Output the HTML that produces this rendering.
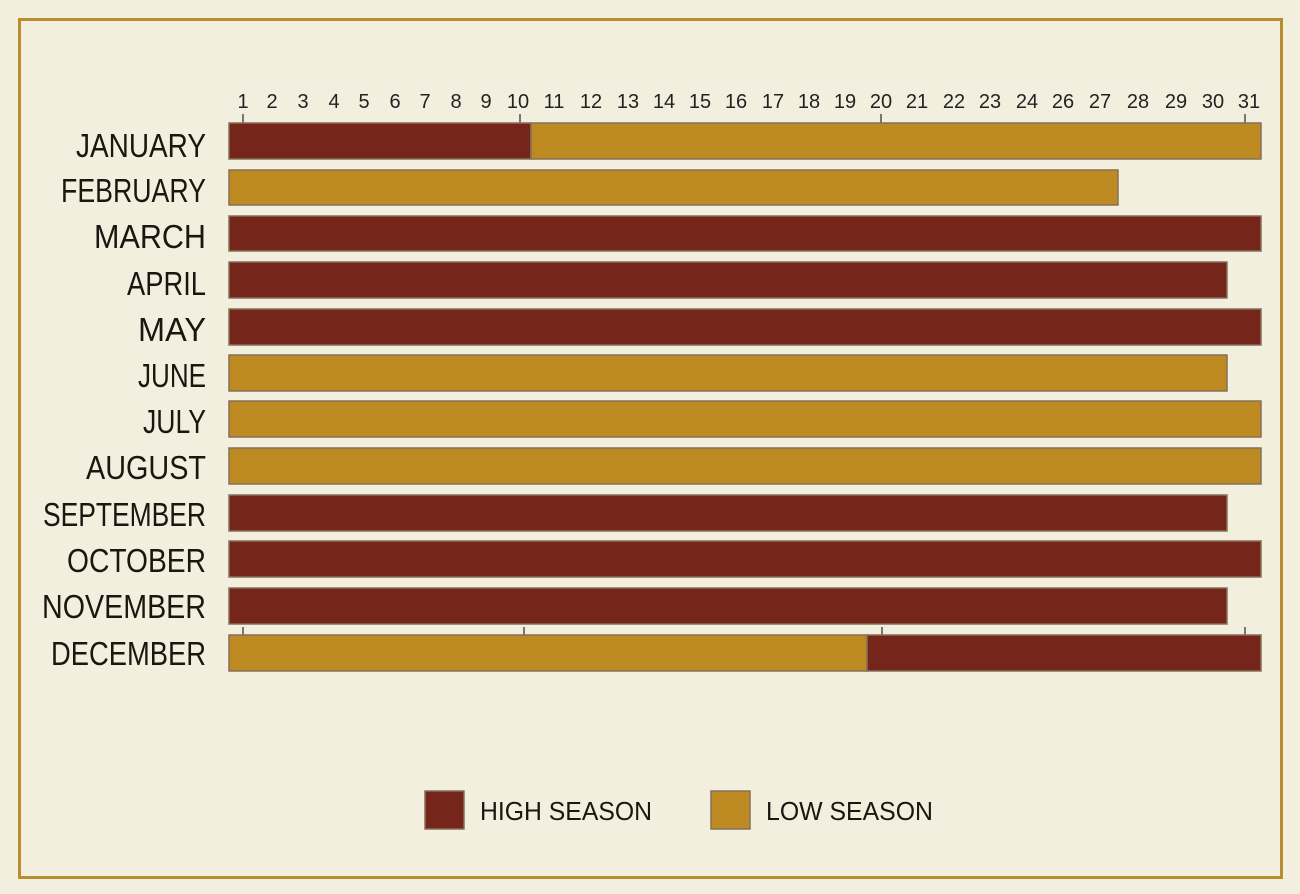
<!DOCTYPE html>
<html><head><meta charset="utf-8"><style>html,body{margin:0;padding:0;background:#f3efdf}svg{display:block}</style></head>
<body>
<svg width="1300" height="894" viewBox="0 0 1300 894" xmlns="http://www.w3.org/2000/svg" font-family="Liberation Sans, sans-serif">
<rect width="1300" height="894" fill="#f3efdf"/>
<rect x="19.5" y="19.5" width="1262" height="858" fill="none" stroke="#b88d2f" stroke-width="3"/>
<g font-size="20" fill="#222" text-anchor="middle">
<text x="243" y="108">1</text><text x="272" y="108">2</text><text x="303" y="108">3</text><text x="334" y="108">4</text><text x="364" y="108">5</text><text x="395" y="108">6</text><text x="425" y="108">7</text><text x="456" y="108">8</text><text x="486" y="108">9</text><text x="518" y="108">10</text><text x="554" y="108">11</text><text x="591" y="108">12</text><text x="628" y="108">13</text><text x="664" y="108">14</text><text x="700" y="108">15</text><text x="736" y="108">16</text><text x="773" y="108">17</text><text x="809" y="108">18</text><text x="845" y="108">19</text><text x="881" y="108">20</text><text x="917" y="108">21</text><text x="954" y="108">22</text><text x="990" y="108">23</text><text x="1027" y="108">24</text><text x="1063" y="108">26</text><text x="1100" y="108">27</text><text x="1138" y="108">28</text><text x="1176" y="108">29</text><text x="1213" y="108">30</text><text x="1249" y="108">31</text>
</g>
<g stroke="#777" stroke-width="2">
<line x1="243" y1="114" x2="243" y2="123"/><line x1="520" y1="114" x2="520" y2="123"/><line x1="881" y1="114" x2="881" y2="123"/><line x1="1245" y1="114" x2="1245" y2="123"/>
<line x1="243" y1="627" x2="243" y2="635"/><line x1="524" y1="627" x2="524" y2="635"/><line x1="882" y1="627" x2="882" y2="635"/><line x1="1245" y1="627" x2="1245" y2="635"/>
</g>
<g stroke="#85715a" stroke-width="1.5">
<rect x="229" y="123" width="302" height="36" fill="#76251b"/>
<rect x="531" y="123" width="730" height="36" fill="#bd8a21"/>
<rect x="229" y="170" width="889" height="35" fill="#bd8a21"/>
<rect x="229" y="216" width="1032" height="35" fill="#76251b"/>
<rect x="229" y="262" width="998" height="36" fill="#76251b"/>
<rect x="229" y="309" width="1032" height="36" fill="#76251b"/>
<rect x="229" y="355" width="998" height="36" fill="#bd8a21"/>
<rect x="229" y="401" width="1032" height="36" fill="#bd8a21"/>
<rect x="229" y="448" width="1032" height="36" fill="#bd8a21"/>
<rect x="229" y="495" width="998" height="36" fill="#76251b"/>
<rect x="229" y="541" width="1032" height="36" fill="#76251b"/>
<rect x="229" y="588" width="998" height="36" fill="#76251b"/>
<rect x="229" y="635" width="638" height="36" fill="#bd8a21"/>
<rect x="867" y="635" width="394" height="36" fill="#76251b"/>
</g>
<g font-size="33" fill="#1e1410" text-anchor="end">
<text x="206" y="157" textLength="130" lengthAdjust="spacingAndGlyphs">JANUARY</text>
<text x="206" y="202" textLength="145" lengthAdjust="spacingAndGlyphs">FEBRUARY</text>
<text x="206" y="248" textLength="112" lengthAdjust="spacingAndGlyphs">MARCH</text>
<text x="206" y="295" textLength="79" lengthAdjust="spacingAndGlyphs">APRIL</text>
<text x="206" y="341" textLength="68" lengthAdjust="spacingAndGlyphs">MAY</text>
<text x="206" y="387" textLength="68" lengthAdjust="spacingAndGlyphs">JUNE</text>
<text x="206" y="433" textLength="63" lengthAdjust="spacingAndGlyphs">JULY</text>
<text x="206" y="479" textLength="120" lengthAdjust="spacingAndGlyphs">AUGUST</text>
<text x="206" y="526" textLength="163" lengthAdjust="spacingAndGlyphs">SEPTEMBER</text>
<text x="206" y="572" textLength="139" lengthAdjust="spacingAndGlyphs">OCTOBER</text>
<text x="206" y="618" textLength="164" lengthAdjust="spacingAndGlyphs">NOVEMBER</text>
<text x="206" y="665" textLength="155" lengthAdjust="spacingAndGlyphs">DECEMBER</text>
</g>
<rect x="425" y="791" width="39" height="38" fill="#76251b" stroke="#85715a" stroke-width="1.5"/>
<rect x="711" y="791" width="39" height="38" fill="#bd8a21" stroke="#85715a" stroke-width="1.5"/>
<g font-size="26" fill="#1e1410">
<text x="480" y="820" textLength="172" lengthAdjust="spacingAndGlyphs">HIGH SEASON</text>
<text x="766" y="820" textLength="167" lengthAdjust="spacingAndGlyphs">LOW SEASON</text>
</g>
</svg>
</body></html>
